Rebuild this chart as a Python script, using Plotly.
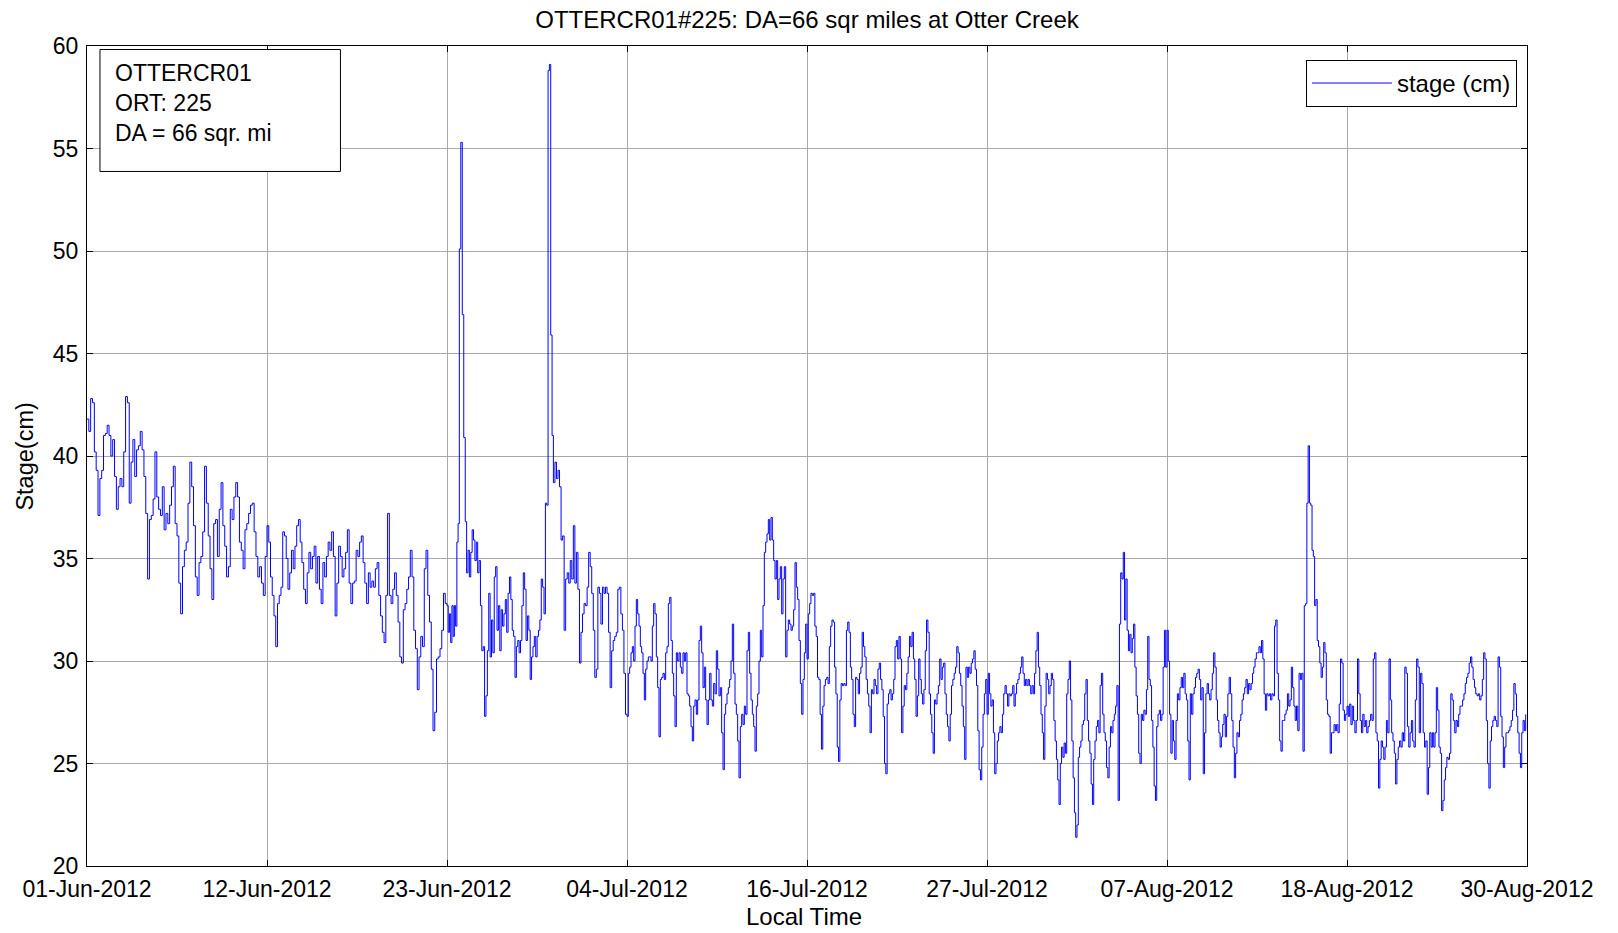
"""
Stage record for OTTERCR01 (ORT 225) at Otter Creek, summer 2012.

Values were read off a MATLAB plot, window by window between the date grid lines.
"""

import pandas as pd
import plotly.graph_objects as go

START = pd.Timestamp("2012-06-01")

# window edges in days after 01-Jun-2012 00:00; each stage list below is spread
# evenly over its own window
window_edges = [0, 11.25, 22.5, 23.27, 23.64, 28.65, 29.15, 33.75, 45, 56.25, 67.5, 78.75, 90]

stage_w01 = [41.8, 41.2, 42.8, 42.6, 40.2, 39.3, 37.1, 38.9, 39.3, 41.0, 41.1, 41.5, 41.0, 40.0,
             40.8, 39.0, 37.4, 38.5, 38.9, 38.5, 40.2, 42.9, 42.6, 37.7, 39.7, 40.8, 39.0, 40.3,
             40.5, 41.2, 40.3, 39.0, 37.2, 34.0, 36.9, 37.1, 37.9, 40.2, 38.0, 37.4, 37.1, 38.5,
             36.4, 37.2, 36.7, 37.6, 38.5, 39.5, 36.7, 36.1, 33.8, 32.3, 34.6, 35.4, 35.8, 37.7,
             39.7, 38.5, 36.6, 34.1, 33.2, 34.8, 35.1, 36.3, 39.5, 37.7, 36.1, 34.5, 33.0, 36.7,
             36.9, 35.1, 37.4, 38.7, 36.6, 35.6, 34.1, 34.6, 37.4, 36.9, 38.0, 38.7, 38.0, 35.8,
             35.4, 34.5, 36.4, 36.7, 37.2, 37.6, 37.7, 36.3, 35.1, 34.1, 34.6, 33.8, 33.2, 35.1]
stage_w02 = [36.6, 35.8, 34.1, 33.2, 32.2, 30.7, 32.8, 33.2, 33.6, 36.3, 36.1, 35.0, 33.5, 34.3,
             35.4, 34.5, 35.6, 36.6, 36.9, 35.8, 34.8, 33.5, 32.8, 34.3, 35.3, 34.5, 35.1, 35.6,
             33.8, 35.1, 33.5, 32.8, 34.8, 34.1, 35.1, 35.8, 35.4, 36.3, 35.1, 32.2, 33.8, 35.6,
             35.1, 34.1, 34.5, 35.3, 36.4, 33.8, 32.8, 33.8, 33.9, 35.4, 35.1, 35.8, 36.1, 34.8,
             33.8, 32.8, 34.3, 33.6, 33.9, 33.6, 34.5, 34.8, 33.2, 32.2, 31.4, 30.9, 33.2, 37.2,
             33.2, 32.8, 33.5, 34.3, 33.2, 31.9, 30.2, 29.9, 32.5, 32.8, 33.5, 34.1, 35.4, 34.1,
             31.5, 30.6, 28.6, 30.2, 31.2, 30.7, 34.5, 35.4, 33.2, 31.9, 29.6, 26.6, 27.5, 30.1,
             30.2, 30.6, 31.5, 33.3, 32.8]
stage_w03 = [32.7, 31.4, 32.3, 30.9, 32.7, 31.2, 32.7, 31.7, 35.8, 36.7]
stage_w04 = [50.1, 55.3, 46.9, 40.9]
stage_w05 = [36.8, 34.3, 35.4, 34.1, 35.3, 36.4, 35.9, 34.9, 35.8, 34.3, 34.9, 32.7, 30.5, 30.7,
             27.3, 28.3, 30.5, 33.3, 30.2, 32.0, 30.4, 34.1, 34.6, 31.5, 32.7, 30.5, 32.5, 31.7,
             32.3, 33.0, 31.4, 33.3, 34.1, 33.0, 31.5, 31.2, 29.2, 30.7, 31.0, 30.4, 31.0, 32.7,
             34.3, 33.5, 31.0, 32.2, 31.5, 29.1, 30.2, 30.7, 31.2, 30.2, 31.2, 31.5, 32.0, 34.0,
             33.6, 32.3]
stage_w06 = [37.7, 37.6, 58.8, 59.1, 45.9, 41.0]
stage_w07 = [38.7, 39.7, 38.9, 39.3, 38.5, 35.9, 36.1, 31.5, 34.0, 34.3, 33.8, 34.9, 34.0, 36.6,
             33.8, 35.3, 33.5, 29.9, 31.4, 32.3, 32.8, 32.7, 33.6, 35.3, 34.6, 33.3, 31.5, 29.2,
             29.6, 33.6, 33.3, 31.8, 33.6, 33.3, 33.6, 33.3, 31.4, 28.7, 30.5, 31.0, 31.2, 31.4,
             33.5, 33.6, 32.3, 31.5, 29.4, 27.4]
stage_w08 = [27.3, 29.4, 29.7, 30.4, 30.7, 30.0, 31.7, 33.0, 32.3, 31.7, 30.7, 30.4, 29.4, 28.1,
             29.6, 30.0, 30.2, 30.2, 30.0, 31.7, 32.8, 32.3, 30.2, 28.7, 26.3, 29.1, 29.2, 29.4,
             29.1, 30.4, 30.7, 32.8, 33.1, 31.0, 29.4, 28.3, 26.8, 30.4, 30.0, 30.4, 29.7, 29.4,
             30.4, 30.0, 30.4, 28.4, 28.3, 27.8, 26.8, 26.1, 27.8, 28.1, 27.4, 28.1, 31.0, 31.7,
             30.4, 28.7, 29.7, 28.1, 26.9, 28.1, 29.4, 28.1, 27.8, 28.9, 28.4, 30.5, 29.6, 28.3,
             28.7, 26.5, 24.7, 27.4, 27.9, 28.4, 28.7, 29.1, 30.0, 31.8, 29.4, 27.9, 27.4, 26.1,
             24.3, 26.8, 27.4, 26.9, 27.8, 27.4, 30.5, 31.4, 29.4, 28.1, 27.4, 26.8, 25.6, 27.8,
             28.4, 30.0, 31.5, 30.2, 32.7, 35.3, 35.8, 36.2, 36.9, 35.9, 37.0, 35.9, 34.9, 34.0,
             34.9, 33.0, 34.0, 34.6, 32.3, 34.0, 34.6, 30.2, 31.5, 32.0, 31.8, 31.5, 31.7, 32.5,
             34.8, 33.6, 33.0, 31.0, 28.9, 27.4, 29.1, 30.4, 31.8]
stage_w09 = [30.1, 32.3, 32.8, 33.3, 33.2, 33.3, 31.7, 31.2, 29.2, 29.1, 27.4, 25.7, 27.8, 28.8,
             29.1, 29.2, 28.9, 30.7, 31.7, 32.0, 31.9, 29.7, 28.4, 25.8, 25.1, 28.1, 28.9, 28.8,
             28.9, 28.8, 31.5, 31.9, 31.4, 29.7, 29.1, 27.4, 26.8, 29.2, 29.1, 28.4, 29.4, 29.7,
             31.4, 30.7, 30.2, 29.1, 28.4, 27.8, 26.5, 28.6, 28.4, 29.1, 28.8, 28.4, 29.6, 29.9,
             29.1, 28.6, 27.3, 25.0, 24.5, 27.9, 28.4, 28.6, 28.1, 28.4, 29.1, 30.7, 31.0, 30.1,
             31.2, 30.1, 26.5, 27.8, 28.8, 28.6, 29.4, 30.2, 31.2, 30.7, 31.4, 30.1, 29.1, 27.3,
             28.3, 30.1, 29.1, 28.4, 27.9, 28.6, 30.5, 32.0, 31.4, 28.4, 27.4, 26.5, 25.5, 28.1,
             27.9, 28.4, 28.8, 30.1, 29.1, 29.7, 29.9, 28.4, 27.4, 26.8, 26.1, 27.4, 28.8, 29.1,
             29.4, 29.7, 30.7, 30.4, 29.4, 28.8, 27.8, 26.8, 25.2, 29.7, 29.2, 29.7, 29.4, 29.9,
             30.1, 30.5, 29.6, 28.8, 26.6, 24.7, 24.2, 25.8, 27.4, 28.4, 29.1]
stage_w10 = [27.4, 29.4, 28.4, 27.8, 28.1, 26.5, 24.5, 25.0, 26.1, 26.5, 26.8, 26.5, 27.4, 28.4,
             28.8, 28.4, 27.8, 28.4, 28.3, 28.4, 28.8, 27.8, 28.4, 28.9, 29.1, 29.4, 29.7, 30.2,
             29.4, 28.8, 29.1, 28.8, 29.1, 28.8, 28.4, 28.8, 28.4, 29.4, 30.5, 31.4, 29.7, 28.8,
             27.4, 26.5, 25.2, 27.8, 29.4, 29.1, 28.4, 28.8, 29.4, 29.1, 27.1, 26.1, 25.2, 24.2,
             23.0, 25.0, 25.8, 25.3, 26.0, 25.5, 28.4, 29.1, 30.0, 28.1, 26.1, 24.3, 22.6, 21.4,
             22.0, 25.3, 25.8, 26.1, 26.9, 27.1, 28.4, 29.1, 27.1, 26.1, 25.5, 24.0, 23.0, 25.2,
             26.1, 26.8, 27.1, 26.5, 28.8, 29.4, 27.4, 26.5, 26.1, 24.8, 24.3, 25.8, 26.8, 26.5,
             27.1, 27.4, 27.8, 28.8, 23.2, 31.8, 34.3, 34.0, 35.3, 32.0, 34.0, 31.5, 30.5, 31.3,
             30.4, 31.1, 31.8, 29.7, 28.3, 27.4, 25.5, 25.0, 27.4, 27.1, 27.6, 27.4, 28.6, 31.2,
             29.1, 28.8, 27.1, 25.8, 23.9, 23.2, 26.8, 27.4, 27.6, 27.1, 27.4, 29.7, 31.5, 29.7]
stage_w11 = [31.5, 30.0, 27.4, 25.5, 27.1, 26.1, 25.2, 27.1, 28.4, 28.1, 28.7, 29.2, 28.7, 29.4,
             28.4, 28.1, 26.1, 24.2, 28.4, 27.4, 28.4, 28.7, 29.2, 29.4, 29.6, 29.1, 28.1, 28.7,
             24.5, 26.5, 28.4, 28.9, 28.4, 28.1, 28.6, 29.4, 30.4, 29.7, 28.1, 27.1, 26.5, 25.8,
             26.3, 26.9, 27.4, 26.3, 27.3, 28.4, 29.2, 28.4, 27.1, 25.8, 24.3, 25.5, 26.5, 26.3,
             27.1, 27.4, 28.1, 28.4, 28.7, 29.1, 28.4, 28.9, 28.6, 28.9, 29.4, 29.7, 30.1, 30.4,
             30.4, 30.7, 30.4, 31.0, 30.1, 28.4, 27.6, 28.4, 28.3, 28.4, 28.1, 28.4, 28.3, 31.7,
             32.0, 29.4, 28.1, 26.1, 25.6, 27.1, 27.1, 27.4, 27.6, 28.4, 27.8, 28.1, 29.7, 28.7,
             27.8, 27.1, 27.8, 26.6, 29.4, 29.1, 29.4, 25.6, 32.7, 32.8, 37.7, 40.5, 37.7, 37.6,
             35.4, 35.1, 32.7, 33.0, 31.0, 30.7, 29.9, 29.2, 29.7, 30.9, 30.4, 28.1, 27.4, 27.3,
             25.5, 26.5, 26.5, 26.9, 26.6, 26.9, 26.5, 27.9, 30.1, 29.9, 27.6, 27.1, 27.4]
stage_w12 = [27.8, 27.3, 27.9, 26.9, 27.8, 27.1, 26.5, 27.1, 30.1, 28.4, 27.1, 26.5, 27.4, 26.8,
             27.1, 26.5, 26.8, 27.1, 27.4, 27.1, 30.1, 30.4, 26.5, 26.1, 23.8, 25.2, 26.1, 25.8,
             25.2, 25.8, 27.1, 26.5, 30.1, 28.1, 26.5, 26.1, 25.5, 24.0, 25.2, 25.8, 26.1, 25.8,
             26.5, 26.1, 29.7, 29.4, 26.8, 25.8, 26.5, 27.1, 26.1, 25.8, 28.1, 30.1, 29.7, 26.5,
             29.4, 28.9, 26.5, 25.8, 26.1, 23.5, 24.8, 26.5, 25.8, 26.5, 25.8, 26.5, 28.7, 27.6,
             25.8, 25.5, 22.7, 23.2, 24.2, 24.8, 25.3, 25.2, 25.5, 28.4, 28.1, 27.1, 26.5, 27.1,
             26.8, 27.4, 27.8, 27.8, 28.1, 28.4, 28.9, 29.2, 29.4, 29.9, 30.2, 29.7, 29.1, 28.7,
             28.4, 28.3, 28.4, 28.1, 28.3, 29.1, 30.4, 30.1, 27.1, 25.0, 23.8, 26.1, 26.8, 27.1,
             27.3, 27.1, 26.8, 30.2, 29.7, 27.3, 26.3, 24.8, 25.8, 26.5, 26.5, 26.6, 26.8, 27.1,
             27.6, 28.9, 28.4, 27.3, 26.5, 25.5, 24.8, 26.5, 27.1, 26.6, 27.4]

stage_windows = [stage_w01, stage_w02, stage_w03, stage_w04, stage_w05, stage_w06,
                 stage_w07, stage_w08, stage_w09, stage_w10, stage_w11, stage_w12]

# MATLAB datetick puts 9 evenly spaced ticks over the 90 day span
tick_days = [0, 11.25, 22.5, 33.75, 45, 56.25, 67.5, 78.75, 90]
tick_labels = ["01-Jun-2012", "12-Jun-2012", "23-Jun-2012", "04-Jul-2012", "16-Jul-2012",
               "27-Jul-2012", "07-Aug-2012", "18-Aug-2012", "30-Aug-2012"]

FONT = "Liberation Sans, Arial, Helvetica, sans-serif"
GRID = "#a9a9a9"

# the page body has an 8px margin, so the figure is made 8px smaller each way
PAGE_PAD = 8
FIG_W, FIG_H = 1618 - PAGE_PAD, 933 - PAGE_PAD


def font(size):
    return dict(family=FONT, size=size, color="black")


def build_series():
    """Spread each window's readings evenly across its time window."""
    days, stage = [], []
    for lo, hi, values in zip(window_edges[:-1], window_edges[1:], stage_windows):
        step = (hi - lo) / len(values)
        days += [lo + i * step for i in range(len(values))]
        stage += values
    times = START + pd.to_timedelta(days, unit="D")
    return times, stage


def make_figure() -> go.Figure:
    times, stage = build_series()

    fig = go.Figure()
    fig.add_trace(go.Scatter(
        x=times, y=stage, mode="lines", name="stage (cm)",
        line=dict(color="#0000ff", width=1, shape="hv"),
    ))

    axis_common = dict(
        showgrid=True, gridcolor=GRID, gridwidth=1,
        showline=True, linecolor="black", linewidth=1, mirror="allticks",
        ticks="inside", ticklen=6, tickcolor="black", tickwidth=1,
        tickfont=font(23), zeroline=False,
    )
    fig.update_xaxes(
        type="date",
        range=[START, START + pd.Timedelta(days=90)],
        tickvals=[START + pd.Timedelta(days=d) for d in tick_days],
        ticktext=tick_labels,
        ticklabelstandoff=2,
        **axis_common,
    )
    fig.update_yaxes(range=[20, 60], tick0=20, dtick=5, ticklabelstandoff=3, **axis_common)

    # station info box in the upper left corner
    fig.add_shape(type="rect", xref="paper", yref="paper",
                  x0=0.009, x1=0.176, y0=0.847, y1=0.9957,
                  line=dict(color="black", width=1), fillcolor="white", layer="above")
    fig.add_annotation(
        text="OTTERCR01<br>ORT: 225<br>DA = 66 sqr. mi",
        xref="paper", yref="paper", x=0.0184, y=0.9305,
        xanchor="left", yanchor="middle", align="left", showarrow=False,
        font=font(23),
    )

    # axis titles
    fig.add_annotation(text="Local Time", xref="paper", yref="paper", x=0.498, y=-0.062,
                       xanchor="center", yanchor="middle", showarrow=False, font=font(24))
    fig.add_annotation(text="Stage(cm)", xref="paper", yref="paper", x=-0.0432, y=0.499,
                       xanchor="center", yanchor="middle", showarrow=False, textangle=-90,
                       font=font(23.5))

    fig.update_layout(
        width=FIG_W, height=FIG_H, autosize=False,
        margin=dict(l=87 - PAGE_PAD, r=91, t=46 - PAGE_PAD, b=67),
        paper_bgcolor="white", plot_bgcolor="white",
        font=font(23),
        title=dict(text="OTTERCR01#225: DA=66 sqr miles at Otter Creek",
                   x=(807 - PAGE_PAD) / FIG_W, y=1 - (19.6 - PAGE_PAD) / FIG_H,
                   xanchor="center", yanchor="middle",
                   xref="container", yref="container", font=font(24)),
        showlegend=True,
        legend=dict(x=0.993, y=0.983, xanchor="right", yanchor="top",
                    bordercolor="black", borderwidth=1, bgcolor="white",
                    itemwidth=80, font=font(24)),
    )
    return fig


fig = make_figure()
fig.write_html("out.html")
